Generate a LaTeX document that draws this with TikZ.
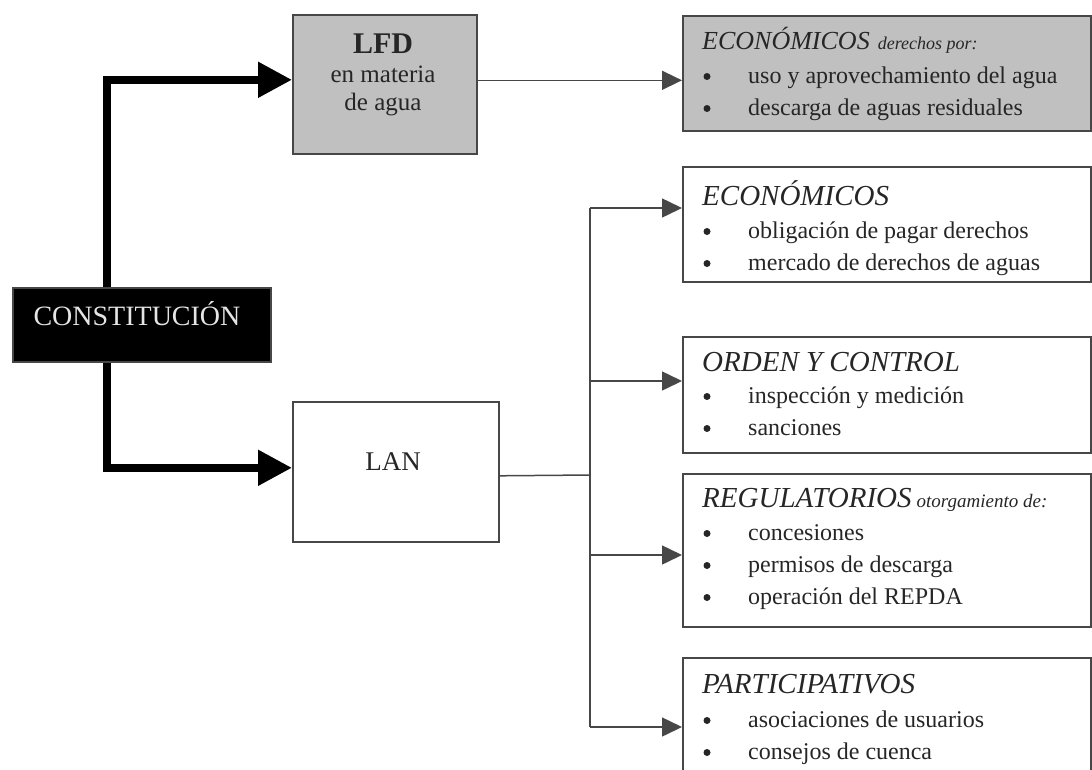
\documentclass[tikz,border=0pt]{standalone}
\usepackage{fontspec}
\setmainfont{Liberation Serif}
\usetikzlibrary{arrows.meta}
\definecolor{kader}{HTML}{474747}
\definecolor{grijs}{HTML}{C0C0C0}
\definecolor{tekst}{HTML}{262626}
\begin{document}
\begin{tikzpicture}[x=1pt, y=-1pt,
                box/.style={draw=kader, line width=1.6pt, anchor=north west, inner sep=0pt},
                grijsbox/.style={box, fill=grijs},
                dik/.style={line width=8pt, -{Triangle[length=34pt,width=34pt]}},
                lijn/.style={draw=kader, line width=1.5pt},
                pijl/.style={lijn, -{Triangle[length=20pt,width=19pt]}},
                kop/.style={anchor=base west, inner sep=0pt, text=tekst, font=\fontsize{29}{29}\selectfont\itshape},
                punt/.style={anchor=base west, inner sep=0pt, text=tekst, font=\fontsize{24}{24}\selectfont}]
                \useasboundingbox (0,0) rectangle (1092,769);
                \clip (0,0) rectangle (1092,769);

                % linkerkant
                \node[box, fill=black, minimum width=258pt, minimum height=74pt] (const) at (12,287) {};
                \node[anchor=base, text=black!10, font=\fontsize{28}{28}\selectfont] (consttxt) at (137,325) {CONSTITUCIÓN};
                \node[grijsbox, minimum width=184pt, minimum height=139pt] (lfd) at (292,14) {};
                \node[anchor=base, text=tekst, font=\fontsize{30}{30}\selectfont\bfseries] (lfdkop) at (383,53) {LFD};
                \node[anchor=base, text=tekst, font=\fontsize{25}{25}\selectfont] (lfdr1) at (383,82) {en materia};
                \node[anchor=base, text=tekst, font=\fontsize{25}{25}\selectfont] (lfdr2) at (383,110) {de agua};
                \node[box, minimum width=206pt, minimum height=140pt] (lan) at (292,401) {};
                \node[anchor=base, text=tekst, font=\fontsize{27}{27}\selectfont] (lantxt) at (393,470) {LAN};

                % rechterkant
                \node[grijsbox, minimum width=408pt, minimum height=115pt] (r0) at (682,15) {};
                \node[box, minimum width=408pt, minimum height=115pt] (r1) at (682,166) {};
                \node[box, minimum width=408pt, minimum height=116pt] (r2) at (682,336) {};
                \node[box, minimum width=408pt, minimum height=153pt] (r3) at (682,473) {};
                \node[box, minimum width=408pt, minimum height=140pt] (r4) at (682,657) {};

                \node[kop, font=\fontsize{26}{26}\selectfont\itshape] (r0k) at (702,49) {ECONÓMICOS\hspace{8pt}{\fontsize{18}{18}\selectfont derechos por:}};
                \foreach \t [count=\i] in {uso y aprovechamiento del agua, descarga de aguas residuales} {
                    \node[punt] (r0p\i) at (748,51+32*\i) {\t};
                    \fill[tekst] (707,44.5+32*\i) circle (3.5);
                }
                \node[kop] (r1k) at (702,205) {ECONÓMICOS};
                \foreach \t [count=\i] in {obligación de pagar derechos, mercado de derechos de aguas} {
                    \node[punt] (r1p\i) at (748,206+32*\i) {\t};
                    \fill[tekst] (707,199.5+32*\i) circle (3.5);
                }
                \node[kop] (r2k) at (702,371) {ORDEN Y CONTROL};
                \foreach \t [count=\i] in {inspección y medición, sanciones} {
                    \node[punt] (r2p\i) at (748,371+32*\i) {\t};
                    \fill[tekst] (707,364.5+32*\i) circle (3.5);
                }
                \node[kop] (r3k) at (702,507) {REGULATORIOS\hspace{5pt}{\fontsize{19}{19}\selectfont otorgamiento de:}};
                \foreach \t [count=\i] in {concesiones, permisos de descarga, operación del REPDA} {
                    \node[punt] (r3p\i) at (748,508+32*\i) {\t};
                    \fill[tekst] (707,501.5+32*\i) circle (3.5);
                }
                \node[kop] (r4k) at (702,693) {PARTICIPATIVOS};
                \foreach \t [count=\i] in {asociaciones de usuarios, consejos de cuenca} {
                    \node[punt] (r4p\i) at (748,695+32*\i) {\t};
                    \fill[tekst] (707,688.5+32*\i) circle (3.5);
                }

                % verbindingen
                \coordinate (stam) at (107,0);
                \draw[dik] (stam |- const.north) |- ([yshift=4.5pt]lfd.west);
                \draw[dik] (stam |- const.south) |- ([yshift=4pt]lan.west);
                \draw[pijl] ([yshift=4pt]lfd.east) -- ([yshift=4pt]lfd.east -| r0.west);

                \coordinate (bus) at (590,475);
                \coordinate (b1) at (590,208);
                \coordinate (b2) at (590,381);
                \coordinate (b3) at (590,555);
                \coordinate (b4) at (590,727);
                \draw[lijn] ([yshift=-4pt]lan.east) -- (bus);
                \draw[lijn] (b1) -- (b4);
                \foreach \b/\r in {b1/r1, b2/r2, b3/r3, b4/r4}
                    \draw[pijl] (\b) -- (\b -| \r.west);
\end{tikzpicture}
\end{document}
